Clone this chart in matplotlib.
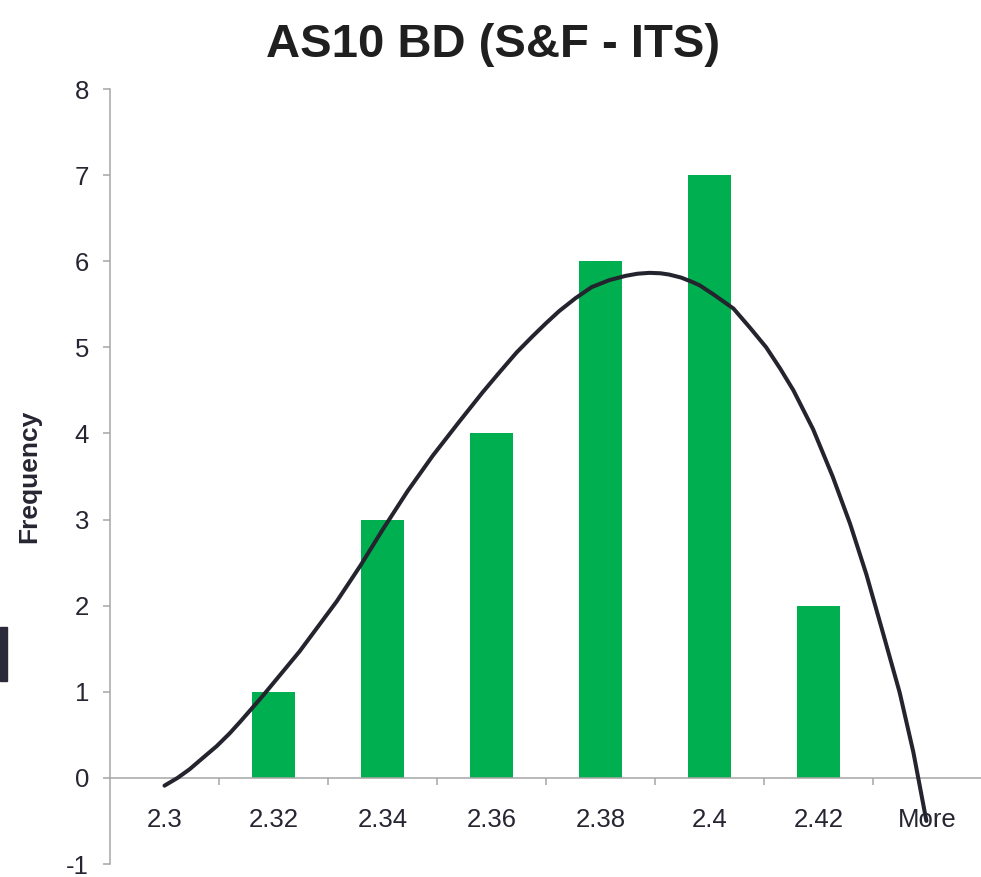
import numpy as np
import matplotlib
matplotlib.use("Agg")
import matplotlib.pyplot as plt
from matplotlib.patches import Rectangle

# histogram bins and counts
bins = ["2.3", "2.32", "2.34", "2.36", "2.38", "2.4", "2.42", "More"]
freq = [0, 1, 3, 4, 6, 7, 2, 0]

# hand-drawn fit curve (x in bin index units)
curve_x = [0.0, 0.12, 0.23, 0.35, 0.48, 0.6, 0.7, 0.9, 1.07, 1.24, 1.41,
           1.58, 1.8, 2.0, 2.23, 2.46, 2.7, 2.92, 3.08, 3.23, 3.37, 3.5,
           3.62, 3.77, 3.92, 4.08, 4.23, 4.34, 4.45, 4.55, 4.63, 4.74, 4.84,
           4.91, 5.03, 5.12, 5.22, 5.37, 5.52, 5.65, 5.77, 5.95, 6.13, 6.29,
           6.44, 6.59, 6.745, 6.87, 6.99]
curve_y = [-0.09, 0.0, 0.10, 0.23, 0.37, 0.52, 0.66, 0.95, 1.21, 1.47, 1.76,
           2.05, 2.47, 2.88, 3.33, 3.74, 4.13, 4.48, 4.72, 4.94, 5.12, 5.28,
           5.42, 5.57, 5.70, 5.78, 5.83, 5.855, 5.865, 5.86, 5.845, 5.81, 5.76,
           5.72, 5.62, 5.54, 5.45, 5.23, 5.00, 4.75, 4.50, 4.05, 3.50, 2.95,
           2.36, 1.69, 0.99, 0.30, -0.50]

txt = "#262633"
grey = "#A6A6A6"
plt.rcParams["font.family"] = ["Liberation Sans", "DejaVu Sans"]
plt.rcParams["axes.unicode_minus"] = False

fig = plt.figure(figsize=(9.81, 8.77), dpi=100)
ax = fig.add_axes([110/981, 13/877, 872/981, 775/877])

x = np.arange(len(bins))
ax.bar(x, freq, width=0.4, color="#00B050", zorder=2)
ax.plot(curve_x, curve_y, color="#24242E", lw=2.9, solid_capstyle="round",
        solid_joinstyle="round", zorder=3)

ax.set_xlim(-0.5, 7.5)
ax.set_ylim(-1, 8)
for s in ["top", "right"]:
    ax.spines[s].set_visible(False)
ax.spines["bottom"].set_position(("data", 0))
ax.spines["bottom"].set_color(grey)
ax.spines["left"].set_color(grey)
ax.spines["bottom"].set_linewidth(1.1)
ax.spines["left"].set_linewidth(1.1)

ax.set_yticks(range(-1, 9))
ax.tick_params(axis="y", direction="out", length=5, width=1.1, color=grey,
               labelsize=18.5, labelcolor=txt, pad=10)
ax.set_xticks(x[:-1] + 0.5)
ax.set_xticklabels([])
ax.set_xticks(x, minor=True)
ax.set_xticklabels(bins, minor=True)
ax.tick_params(axis="x", which="major", direction="out", length=5, width=1.1,
               color=grey)
ax.tick_params(axis="x", which="minor", length=0, labelsize=18.5,
               labelcolor=txt, pad=22)

ax.set_ylabel("Frequency", fontsize=19, fontweight="bold", color=txt,
              labelpad=18)
fig.text(493/981, 1 - 45/877, "AS10 BD (S&F - ITS)", fontsize=34,
         fontweight="bold", color="#1F1F1F", ha="center", va="center")

# cropped dark mark on the left edge
fig.patches.append(Rectangle((0, 1 - 681/877), 7/981, 54/877,
                             transform=fig.transFigure, color="#2A2A3A"))

fig.savefig("out.png", dpi=100)
